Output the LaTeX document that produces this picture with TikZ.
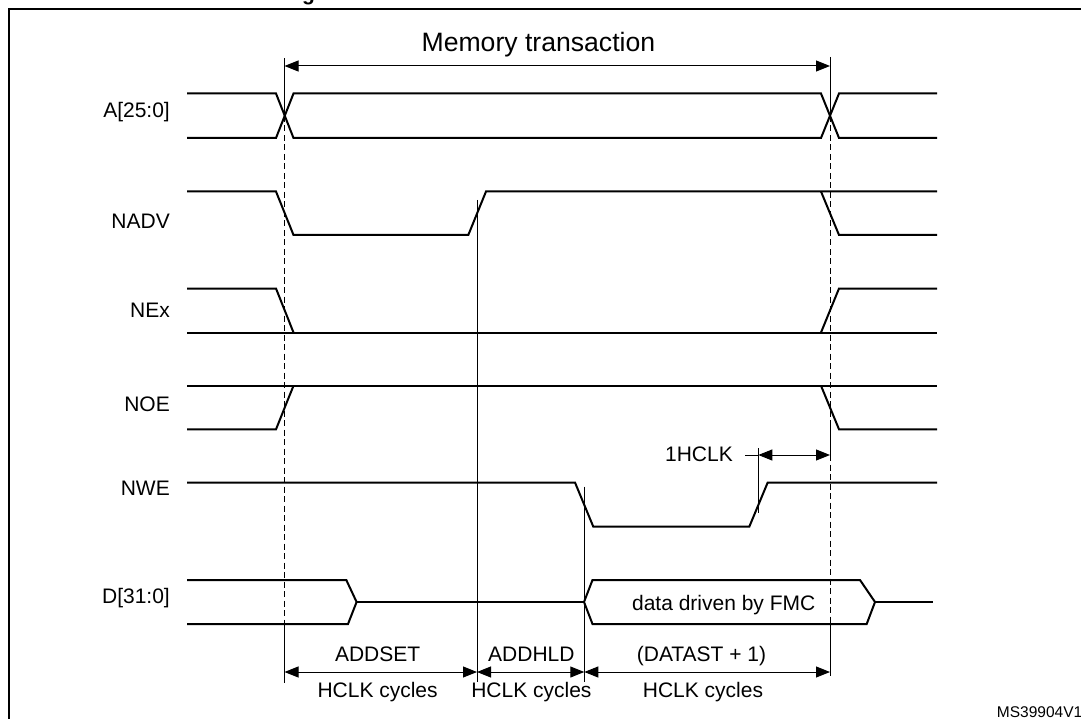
\documentclass[tikz,border=0pt]{standalone}
\usepackage{fontspec}
\setmainfont{Liberation Sans}
\usetikzlibrary{arrows.meta}
\begin{document}
\begin{tikzpicture}[x=1pt,y=-1pt,
  sig/.style={line width=2pt, line join=miter},
  thinline/.style={line width=1pt},
  dashmark/.style={line width=1pt, dash pattern=on 6pt off 3.5pt},
  dimarrow/.style={line width=1pt, {Triangle[length=14pt,width=11pt]}-{Triangle[length=14pt,width=11pt]}},
  lbl/.style={font=\fontsize{21}{25}\selectfont, inner sep=0pt},
  frame/.style={line width=2.4pt},
]
\useasboundingbox (0,0) rectangle (1081,719);
% frame and cropped title
\draw[frame] (9,719) -- (9,9) -- (1081,9);
\node[inner sep=0pt, anchor=base west, font=\fontsize{21}{25}\selectfont\bfseries] (ttl) at (302,0.2) {g};

% timing marker coordinates
\coordinate (e1top) at (284.5,58.5);
\coordinate (e1x) at (284.5,116);
\coordinate (e1d) at (284.5,624);
\coordinate (e1bot) at (284.5,683);
\coordinate (e2top) at (830,57);
\coordinate (e2x) at (830,116);
\coordinate (e2a) at (830,420);
\coordinate (e2b) at (830,455);
\coordinate (e2d) at (830,624);
\coordinate (e2bot) at (830,676);
\coordinate (m1top) at (477,200);
\coordinate (m1bot) at (477,682);
\coordinate (m2top) at (584.3,486.7);
\coordinate (m2bot) at (584.3,682);
\coordinate (m3top) at (758.3,448);
\coordinate (m3bot) at (758.3,513);

% markers
\draw[thinline] (e1top) -- (e1x);
\draw[dashmark] (e1x) -- (e1d);
\draw[thinline] (e1d) -- (e1bot);
\draw[thinline] (e2top) -- (e2x);
\draw[dashmark] (e2x) -- (e2a);
\draw[thinline] (e2a) -- (e2b);
\draw[dashmark] (e2b) -- (e2d);
\draw[thinline] (e2d) -- (e2bot);
\draw[thinline] (m1top) -- (m1bot);
\draw[thinline] (m2top) -- (m2bot);
\draw[thinline] (m3top) -- (m3bot);

% Memory transaction
\node[inner sep=0pt, anchor=base, font=\fontsize{26.6}{30}\selectfont] (mt) at (538.4,51.7) {Memory transaction};
\draw[dimarrow] (e1top |- 0,66) -- (e2top |- 0,66);

% labels
\node[lbl, anchor=base east] (lA) at (170,118) {A[25:0]};
\node[lbl, anchor=base east] (lNADV) at (170,228.5) {NADV};
\node[lbl, anchor=base east] (lNEx) at (170,317.7) {NEx};
\node[lbl, anchor=base east] (lNOE) at (170,411) {NOE};
\node[lbl, anchor=base east] (lNWE) at (170,495) {NWE};
\node[lbl, anchor=base east] (lD) at (170,603) {D[31:0]};

% A[25:0]
\draw[sig] (187,93.5) -- (276,93.5) -- (293.5,138) -- (821,138) -- (839,93.5) -- (937,93.5);
\draw[sig] (187,138) -- (276,138) -- (293.5,93.5) -- (821,93.5) -- (839,138) -- (937,138);

% NADV
\draw[sig] (187,191.5) -- (276,191.5) -- (293.5,235) -- (468.3,235) -- (486,191.5) -- (937,191.5);
\draw[sig] (821,191.5) -- (839,235) -- (937,235);

% NEx
\draw[sig] (187,288.5) -- (276,288.5) -- (293.5,332.5);
\draw[sig] (187,332.5) -- (937,332.5);
\draw[sig] (821,332.5) -- (839,288.5) -- (937,288.5);

% NOE
\draw[sig] (187,385.7) -- (937,385.7);
\draw[sig] (187,429.3) -- (276,429.3) -- (293.5,385.7);
\draw[sig] (821,385.7) -- (839,429.3) -- (937,429.3);

% NWE
\draw[sig] (187,482.5) -- (575,482.5) -- (593.3,526.7) -- (749.3,526.7) -- (767.7,482.5) -- (937,482.5);

% D[31:0]
\draw[sig] (187,580) -- (346.3,580) -- (356.6,602) -- (348,624) -- (187,624);
\draw[sig] (356.6,602) -- (584,602);
\draw[sig] (584,602) -- (592.5,580) -- (860,580) -- (875,602) -- (866.7,624) -- (592.5,624) -- cycle;
\draw[sig] (875,602) -- (932.7,602);
\node[lbl, anchor=base] (ldata) at (723.7,610) {data driven by FMC};

% 1HCLK
\node[lbl, anchor=base east] (l1h) at (733,461.5) {1HCLK};
\coordinate (lead) at (745,455);
\draw[thinline] (lead) -- (m3top |- lead);
\draw[dimarrow] (m3top |- lead) -- (e2b);

% bottom dimensions
\coordinate (b1) at (284.5,672);
\coordinate (b2) at (477,672);
\coordinate (b3) at (584.3,672);
\coordinate (b4) at (830,672);
\draw[dimarrow] (b1) -- (b2);
\draw[dimarrow] (b2) -- (b3);
\draw[dimarrow] (b3) -- (b4);
\node[lbl, anchor=base] (ladds) at (377.6,661) {ADDSET};
\node[lbl, anchor=base] (laddh) at (531.4,661) {ADDHLD};
\node[lbl, anchor=base] (ldat) at (701.5,661) {(DATAST + 1)};
\node[lbl, anchor=base] (lh1) at (377.6,697) {HCLK cycles};
\node[lbl, anchor=base] (lh2) at (531.4,697) {HCLK cycles};
\node[lbl, anchor=base] (lh3) at (703,697) {HCLK cycles};

\node[inner sep=0pt, anchor=base west, font=\fontsize{15.5}{18}\selectfont] (ms) at (996.7,717.3) {MS39904V1};
\end{tikzpicture}
\end{document}
